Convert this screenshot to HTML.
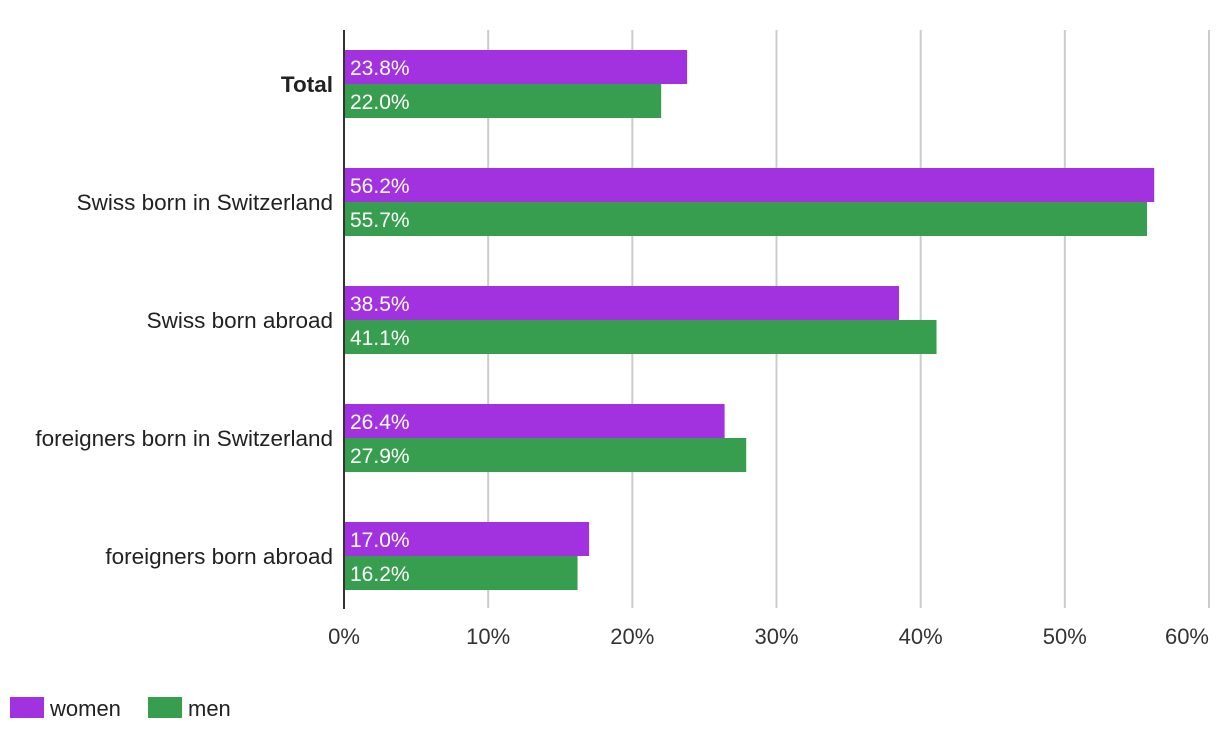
<!DOCTYPE html>
<html><head><meta charset="utf-8"><style>
body{margin:0;background:#fff;width:1220px;height:740px;overflow:hidden;font-family:"Liberation Sans",sans-serif}
svg text{font-family:"Liberation Sans",sans-serif}
</style></head><body>
<svg id="chart" width="1220" height="740" xmlns="http://www.w3.org/2000/svg"></svg>
<script>
const categories=["Total","Swiss born in Switzerland","Swiss born abroad","foreigners born in Switzerland","foreigners born abroad"];
const women=[23.8,56.2,38.5,26.4,17.0];
const men=[22.0,55.7,41.1,27.9,16.2];
const ticks=[0,10,20,30,40,50,60];
const svg=document.getElementById('chart');
const NS="http://www.w3.org/2000/svg";
const x0=344,pxPer=865/60,plotTop=30,band=118,barH=34;
const xs=v=>x0+v*pxPer;
function el(t,a,p){const e=document.createElementNS(NS,t);for(const k in a)e.setAttribute(k,a[k]);(p||svg).appendChild(e);return e;}
ticks.forEach((t,i)=>{
 if(t>0){const g=el('line',{x1:xs(t),x2:xs(t),y1:plotTop,y2:608,stroke:'#cccccc','stroke-width':2});
 
 }
 const last=i===ticks.length-1;
 const l=el('text',{x:last?xs(t):xs(t),y:644,'text-anchor':last?'end':'middle','font-size':22,fill:'#333'});l.textContent=t+'%';
 
 
});
categories.forEach((c,i)=>{
 const y=plotTop+20+i*band;
 const lab=el('text',{x:333,y:y+barH+8,'text-anchor':'end','font-size':22.5,fill:'#222','font-weight':i==0?'bold':'normal'});lab.textContent=c;
 
 
 [[women[i],'#a232df',y],[men[i],'#389e4f',y+barH]].forEach(([v,col,yy],j)=>{
  const r=el('rect',{x:x0,y:yy,width:xs(v)-x0,height:barH,fill:col});
  
  
  const t=el('text',{x:x0+6,y:yy+25,'font-size':21,fill:'#fff'});t.textContent=v.toFixed(1)+'%';
  
  
 });
});
const ax=el('line',{x1:x0,x2:x0,y1:plotTop,y2:609,stroke:'#333','stroke-width':2});


[['women','#a232df',10,50],['men','#389e4f',148,188]].forEach(([n,c,rx,tx])=>{
 const r=el('rect',{x:rx,y:697,width:34,height:21,fill:c});
 
 
 const t=el('text',{x:tx,y:716,'font-size':22,fill:'#222'});t.textContent=n;
 
 
});
</script>
</body></html>
